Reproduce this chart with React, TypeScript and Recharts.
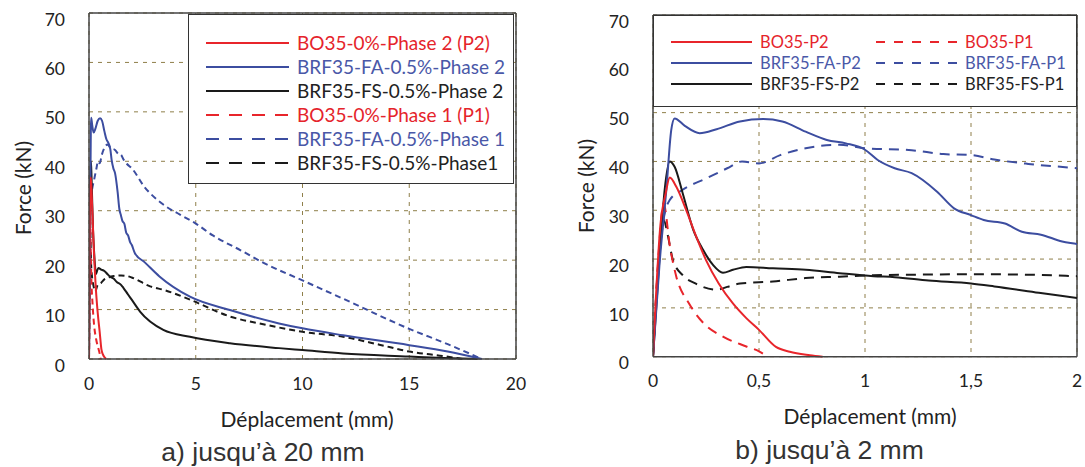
import React from "react";
import {
  LineChart,
  Line,
  XAxis,
  YAxis,
  CartesianGrid,
  ReferenceLine,
} from "recharts";

// Force (kN) vs déplacement (mm)
const BO35_P2_X = [0, 0.035, 0.06, 0.079, 0.11, 0.157, 0.204, 0.25, 0.31, 0.377, 0.44, 0.5, 0.58, 0.645, 0.74, 0.8];
const BO35_P2_Y = [0, 27, 33.5, 36.7, 34.8, 30, 24.6, 19.8, 15.0, 10.9, 7.9, 5.5, 2.0, 1.0, 0.3, 0];

const BO35_P1_X = [0, 0.025, 0.05, 0.08, 0.11, 0.17, 0.24, 0.33, 0.44, 0.5, 0.54];
const BO35_P1_Y = [0, 20, 31.4, 22.5, 16.4, 10.9, 6.8, 4.1, 2.1, 1.1, 0];

const FA_P2_X = [0, 0.031, 0.063, 0.086, 0.102, 0.15, 0.22, 0.3, 0.41, 0.52, 0.61, 0.72, 0.82, 0.91, 1.0, 1.06, 1.14, 1.22, 1.34, 1.42, 1.5, 1.56, 1.66, 1.74, 1.83, 1.93, 2.0, 2.15, 2.6, 3.3, 4.73, 6.6, 8.9, 10, 11.9, 15, 16.8, 18.4];
const FA_P2_Y = [0, 19.1, 34.2, 46.4, 48.8, 47.3, 45.8, 46.6, 48.2, 48.7, 48.2, 46.1, 44.4, 43.7, 42.4, 40.3, 38.6, 37.6, 33.8, 30.4, 29.0, 28.0, 27.3, 25.6, 25.0, 23.6, 23.1, 21.4, 19.6, 16.7, 12.6, 9.9, 7.2, 6.2, 4.8, 2.8, 1.5, 0];

const FA_P1_X = [0, 0.02, 0.047, 0.079, 0.14, 0.25, 0.35, 0.42, 0.5, 0.6, 0.72, 0.88, 1.0, 1.22, 1.37, 1.5, 1.61, 1.77, 2.0, 2.6, 3.4, 4.26, 5.0, 5.8, 7.1, 8.2, 10, 11.9, 15, 16.8, 18.4];
const FA_P1_Y = [0, 15, 27.3, 32.1, 34.2, 36.5, 38.6, 40, 39.6, 41.3, 42.7, 43.4, 42.7, 42.3, 41.5, 41.3, 40.4, 39.5, 38.6, 34.8, 31.5, 29.2, 27.4, 25.0, 22.0, 19.4, 15.9, 12.2, 6.1, 3.0, 0];

const FS_P2_X = [0, 0.031, 0.055, 0.079, 0.102, 0.14, 0.19, 0.236, 0.283, 0.33, 0.377, 0.44, 0.566, 0.72, 0.88, 1.04, 1.14, 1.3, 1.5, 1.61, 1.82, 2.0, 2.39, 3.48, 4.73, 6.6, 8.9, 10, 11.9, 15, 16.6, 18.2];
const FS_P2_Y = [0, 20.5, 34.2, 40.0, 38.9, 33.5, 26, 21.9, 18.8, 17.2, 17.8, 18.4, 18.1, 17.8, 17.1, 16.5, 16.3, 15.6, 15.0, 14.4, 13.1, 12.0, 9.6, 5.9, 4.5, 3.2, 2.2, 1.8, 1.1, 0.5, 0.2, 0];

const FS_P1_X = [0, 0.031, 0.05, 0.071, 0.094, 0.14, 0.2, 0.3, 0.35, 0.41, 0.566, 0.72, 0.88, 1.04, 1.22, 1.5, 1.77, 2.0, 2.86, 3.57, 4.73, 6.6, 8.3, 10, 11.9, 13.6, 15, 16.6, 17.5];
const FS_P1_Y = [0, 22.5, 28, 24.6, 19.8, 16.7, 15.0, 13.7, 14.3, 15.0, 15.4, 16.1, 16.4, 16.7, 16.8, 16.9, 16.8, 16.5, 14.7, 13.9, 12.0, 8.6, 6.9, 5.5, 4.5, 2.9, 1.5, 0.6, 0];

const Y_TICKS = [0, 10, 20, 30, 40, 50, 60, 70];
const X_TICKS_A = [0, 5, 10, 15, 20];
const X_TICKS_B = [0, 0.5, 1, 1.5, 2];

const RED = "#E8252B";
const BLUE = "#3C4DA0";
const BLACK = "#1a1a1a";
const RED_TXT = "#E5242B";
const BLUE_TXT = "#4A58A8";
const GRID = "#8f7f4a";
const FONT = "Lato, 'Open Sans', sans-serif";
const CAPTION_FONT = "'Liberation Sans', Arial, sans-serif";

const pts = (xs: number[], ys: number[]) => xs.map((x, i) => ({ x, y: ys[i] }));

const SERIES = [
  { key: "fs1", data: pts(FS_P1_X, FS_P1_Y), color: BLACK, dashed: true },
  { key: "fa1", data: pts(FA_P1_X, FA_P1_Y), color: BLUE, dashed: true },
  { key: "bo1", data: pts(BO35_P1_X, BO35_P1_Y), color: RED, dashed: true },
  { key: "fs2", data: pts(FS_P2_X, FS_P2_Y), color: BLACK, dashed: false },
  { key: "fa2", data: pts(FA_P2_X, FA_P2_Y), color: BLUE, dashed: false },
  { key: "bo2", data: pts(BO35_P2_X, BO35_P2_Y), color: RED, dashed: false },
];

const YTick = (props: any) => {
  const { x, y, payload } = props;
  return (
    <text x={x - 22} y={y + 6.5} dy="0.35em" textAnchor="end" fontSize={17.5} fill="#222" fontFamily={FONT}>
      {payload.value}
    </text>
  );
};

const XTick = (props: any) => {
  const { x, y, payload, comma } = props;
  const label = comma ? String(payload.value).replace(".", ",") : String(payload.value);
  return (
    <text x={x} y={y + 16} dy="0.72em" textAnchor="middle" fontSize={17.5} fill="#222" fontFamily={FONT}>
      {label}
    </text>
  );
};

// plotLeft/plotRight/plotTop/plotBottom are relative to the panel's own box
function Panel({
  left, width, plotLeft, plotRight, plotTop, plotBottom, xMax, ticks, comma, dash, lw,
}: {
  left: number; width: number; plotLeft: number; plotRight: number; plotTop: number; plotBottom: number;
  xMax: number; ticks: number[]; comma: boolean; dash: string; lw: number;
}) {
  const H = 400;
  return (
    <div style={{ position: "absolute", left, top: 0 }}>
      <LineChart width={width} height={H} margin={{ top: plotTop, right: width - plotRight, left: 0, bottom: 0 }}>
        <CartesianGrid stroke={GRID} strokeDasharray="4 5" strokeWidth={1} />
        <XAxis
          type="number"
          dataKey="x"
          domain={[0, xMax]}
          ticks={ticks}
          allowDataOverflow
          height={H - plotBottom}
          tickSize={0}
          tickLine={false}
          axisLine={{ stroke: "#444", strokeWidth: 1.5 }}
          tick={<XTick comma={comma} />}
        />
        <YAxis
          type="number"
          domain={[0, 70]}
          ticks={Y_TICKS}
          width={plotLeft}
          tickSize={0}
          tickLine={false}
          axisLine={{ stroke: "#444", strokeWidth: 1.5 }}
          tick={<YTick />}
        />
        <ReferenceLine y={70} stroke="#444" strokeWidth={1.5} />
        <ReferenceLine x={xMax} stroke="#444" strokeWidth={1.5} />
        {SERIES.map((s) => (
          <Line
            key={s.key}
            data={s.data}
            dataKey="y"
            type="monotone"
            stroke={s.color}
            strokeWidth={lw}
            strokeDasharray={s.dashed ? dash : undefined}
            dot={false}
            activeDot={false}
            isAnimationActive={false}
          />
        ))}
      </LineChart>
    </div>
  );
}

const LegendSample = ({ color, dashed, dash, w }: { color: string; dashed: boolean; dash: string; w: number }) => (
  <svg width={w} height={6} style={{ display: "block" }}>
    <line x1={0} y1={3} x2={w} y2={3} stroke={color} strokeWidth={2.2} strokeDasharray={dashed ? dash : undefined} />
  </svg>
);

const LEG_A = [
  { label: "BO35-0%-Phase 2 (P2)", color: RED, txt: RED_TXT, dashed: false },
  { label: "BRF35-FA-0.5%-Phase 2", color: BLUE, txt: BLUE_TXT, dashed: false },
  { label: "BRF35-FS-0.5%-Phase 2", color: BLACK, txt: "#222", dashed: false },
  { label: "BO35-0%-Phase 1 (P1)", color: RED, txt: RED_TXT, dashed: true },
  { label: "BRF35-FA-0.5%-Phase 1", color: BLUE, txt: BLUE_TXT, dashed: true },
  { label: "BRF35-FS-0.5%-Phase1", color: BLACK, txt: "#222", dashed: true },
];

const LEG_B = [
  { label: "BO35-P2", color: RED, txt: RED_TXT, dashed: false },
  { label: "BRF35-FA-P2", color: BLUE, txt: BLUE_TXT, dashed: false },
  { label: "BRF35-FS-P2", color: BLACK, txt: "#222", dashed: false },
  { label: "BO35-P1", color: RED, txt: RED_TXT, dashed: true },
  { label: "BRF35-FA-P1", color: BLUE, txt: BLUE_TXT, dashed: true },
  { label: "BRF35-FS-P1", color: BLACK, txt: "#222", dashed: true },
];

const textStyle = (x: number, y: number, size: number, family = FONT): React.CSSProperties => ({
  position: "absolute",
  left: x,
  top: y,
  transform: "translate(-50%, -50%)",
  fontSize: size,
  fontFamily: family,
  color: "#222",
  whiteSpace: "nowrap",
  lineHeight: 1,
});

export default function App() {
  return (
    <div style={{ position: "absolute", left: 0, top: 0, width: 1085, height: 467, background: "#fff", overflow: "hidden" }}>
      <Panel left={0} width={545} plotLeft={89} plotRight={516} plotTop={13} plotBottom={359}
        xMax={20} ticks={X_TICKS_A} comma={false} dash="6 4" lw={2} />
      <Panel left={560} width={525} plotLeft={93} plotRight={517} plotTop={15} plotBottom={356.7}
        xMax={2} ticks={X_TICKS_B} comma={true} dash="10 7" lw={2} />

      {/* legend a */}
      <div style={{ position: "absolute", left: 188, top: 14, width: 326, height: 170, border: "1.5px solid #333", background: "#fff", boxSizing: "border-box" }}>
        {LEG_A.map((e, i) => (
          <div key={e.label} style={{ position: "absolute", left: 17, top: 27.7 + i * 24 - 12, height: 24, display: "flex", alignItems: "center" }}>
            <LegendSample color={e.color} dashed={e.dashed} dash="13 10" w={83} />
            <span style={{ marginLeft: 8, fontSize: 19, fontFamily: FONT, color: e.txt, whiteSpace: "nowrap" }}>{e.label}</span>
          </div>
        ))}
      </div>

      {/* legend b */}
      <div style={{ position: "absolute", left: 653, top: 15, width: 424, height: 92, border: "1.5px solid #333", background: "#fff", boxSizing: "border-box" }}>
        {LEG_B.map((e, i) => (
          <div key={e.label} style={{ position: "absolute", left: i < 3 ? 17 : 222, top: 26 + (i % 3) * 21 - 10.5, height: 21, display: "flex", alignItems: "center" }}>
            <LegendSample color={e.color} dashed={e.dashed} dash="9 9" w={81} />
            <span style={{ marginLeft: 8, fontSize: 16.5, fontFamily: FONT, color: e.txt, whiteSpace: "nowrap" }}>{e.label}</span>
          </div>
        ))}
      </div>

      {/* axis titles */}
      <div style={{ ...textStyle(22, 187.5, 21), transform: "translate(-50%, -50%) rotate(-90deg)" }}>Force (kN)</div>
      <div style={{ ...textStyle(585, 185.5, 21), transform: "translate(-50%, -50%) rotate(-90deg)" }}>Force (kN)</div>
      <div style={textStyle(307, 418, 21)}>Déplacement (mm)</div>
      <div style={textStyle(870, 415, 21)}>Déplacement (mm)</div>

      {/* captions */}
      <div style={{ ...textStyle(263, 452, 26.5, CAPTION_FONT), color: "#333" }}>a) jusqu’à 20 mm</div>
      <div style={{ ...textStyle(829.5, 450, 26.5, CAPTION_FONT), color: "#333" }}>b) jusqu’à 2 mm</div>
    </div>
  );
}
